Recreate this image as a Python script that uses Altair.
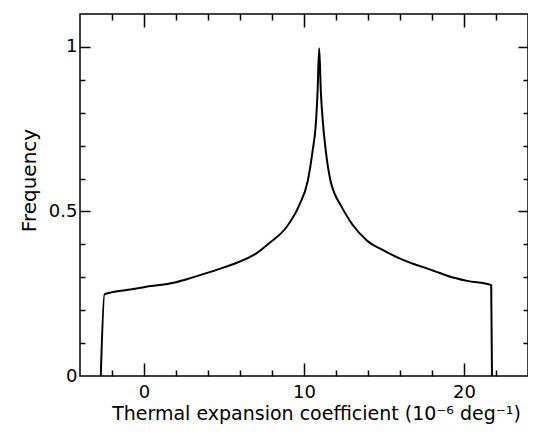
import altair as alt
import pandas as pd

# Curve
x_vals = [-2.7, -2.47, -1.0, 0.0, 2.0, 3.0, 4.0, 5.0, 6.0, 7.0, 7.86, 8.9, 9.71, 10.23, 10.54, 10.74,
          10.85, 10.95, 11.05, 11.19, 11.36, 11.67, 11.95, 12.28, 13.0, 13.93, 15.0, 15.9, 16.7, 17.5,
          18.2, 19.0, 20.2, 21.7, 21.75]
y_vals = [0.0, 0.248, 0.262, 0.270, 0.285, 0.299, 0.314, 0.330, 0.348, 0.372, 0.405, 0.452, 0.520, 0.592,
          0.685, 0.766, 0.867, 0.996, 0.867, 0.766, 0.685, 0.590, 0.550, 0.520, 0.462, 0.412, 0.381, 0.359,
          0.343, 0.330, 0.318, 0.304, 0.289, 0.276, 0.0]

x_label_values = [0, 10, 20]
y_label_values = [0, 0.5, 1]
x_tick_values = [-2, 0, 2, 4, 6, 8, 10, 12, 14, 16, 18, 20, 22]
y_tick_values = [0.1, 0.2, 0.3, 0.4, 0.5, 0.6, 0.7, 0.8, 0.9, 1.0]

x_title = "Thermal expansion coefficient (10⁻⁶ deg⁻¹)"
y_title = "Frequency"

df = pd.DataFrame({"x": x_vals, "y": y_vals, "i": list(range(len(x_vals)))})

W, H = 448, 362
FONT = "DejaVu Sans"
xscale = alt.Scale(domain=[-4, 24], nice=False, zero=False)
yscale = alt.Scale(domain=[0, 1.1], nice=False, zero=False)

x_tsize = {"condition": {"test": "datum.value % 10 === 0", "value": 13}, "value": 6}
y_tsize = {"condition": {"test": "abs(datum.value - 0.5) < 0.01 || abs(datum.value - 1) < 0.01", "value": 10}, "value": 5}

base = alt.Chart(df)

line = base.mark_line(color="black", strokeWidth=2, interpolate="monotone").encode(
    x=alt.X("x:Q", scale=xscale, title=x_title,
            axis=alt.Axis(orient="bottom", values=x_label_values, tickSize=0, ticks=False, domain=False,
                          grid=False, labelPadding=7, labelFont=FONT, labelFontSize=18, labelColor="black",
                          titleFont=FONT, titleFontSize=19, titleFontWeight="normal", titleColor="black",
                          titleX=236, titleY=43, titleBaseline="alphabetic", titleAlign="center")),
    y=alt.Y("y:Q", scale=yscale, title=y_title,
            axis=alt.Axis(orient="left", values=y_label_values, format="~g", tickSize=0, ticks=False,
                          domain=False, grid=False, labelPadding=3, labelFont=FONT, labelFontSize=18,
                          labelColor="black", titleFont=FONT, titleFontSize=20, titleFontWeight="normal",
                          titleColor="black", titleX=-45, titleY=166, titleBaseline="alphabetic",
                          titleAlign="center", titleAngle=270)),
    order="i:Q",
)

# inward ticks on bottom and left
ticks_bl = base.mark_line(opacity=0).encode(
    x=alt.X("x:Q", scale=xscale, title=None,
            axis=alt.Axis(orient="top", offset=-H, values=x_tick_values, labels=False, domain=False,
                          grid=False, tickColor="black", tickWidth=1.5, tickSize=x_tsize)),
    y=alt.Y("y:Q", scale=yscale, title=None,
            axis=alt.Axis(orient="right", offset=-W, values=y_tick_values, labels=False, domain=False,
                          grid=False, tickColor="black", tickWidth=1.5, tickSize=y_tsize)),
)

# inward ticks on top and right
ticks_tr = base.mark_line(opacity=0).encode(
    x=alt.X("x:Q", scale=xscale, title=None,
            axis=alt.Axis(orient="bottom", offset=-H, values=x_tick_values, labels=False, domain=False,
                          grid=False, tickColor="black", tickWidth=1.5, tickSize=x_tsize)),
    y=alt.Y("y:Q", scale=yscale, title=None,
            axis=alt.Axis(orient="left", offset=-W, values=y_tick_values, labels=False, domain=False,
                          grid=False, tickColor="black", tickWidth=1.5, tickSize=y_tsize)),
)

chart = alt.layer(line, ticks_bl, ticks_tr).resolve_axis(
    x="independent", y="independent"
).properties(
    width=W, height=H,
    autosize=alt.AutoSizeParams(type="none"),
    padding={"left": 72, "top": 6, "right": 0, "bottom": 50},
    background="white",
).configure_view(stroke="black", strokeWidth=1.5)

chart.save("out.html", embed_options={"renderer": "svg", "actions": False})
